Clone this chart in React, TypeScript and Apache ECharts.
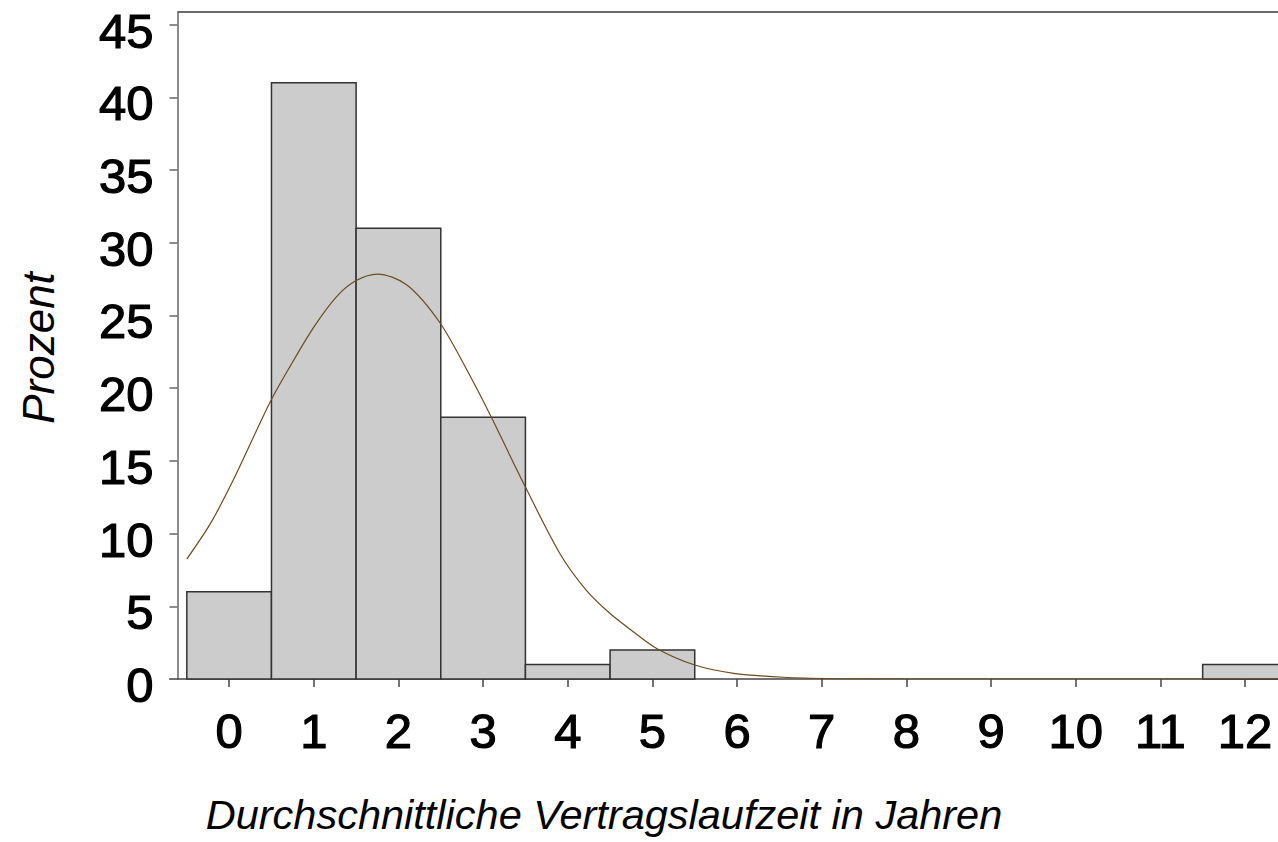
import React, { useEffect, useRef } from "react";
import * as echarts from "echarts";

const categories = [0, 1, 2, 3, 4, 5, 6, 7, 8, 9, 10, 11, 12];
const percent = [6, 41, 31, 18, 1, 2, 0, 0, 0, 0, 0, 0, 1];
const yTicks = [0, 5, 10, 15, 20, 25, 30, 35, 40, 45];
const curveX = [-0.5, -0.22, 0.05, 0.48, 0.72, 1.0, 1.27, 1.5, 1.75, 2.1, 2.49, 2.85, 3.08, 3.5, 3.91, 4.22, 4.5, 4.74, 5.05, 5.5, 5.96, 6.55, 7.14, 8, 9, 10, 11, 12, 12.5];
const curveY = [8.25, 10.7, 13.7, 19.0, 21.5, 24.2, 26.3, 27.4, 27.85, 27.1, 24.5, 20.8, 18.2, 13.2, 8.6, 6.1, 4.5, 3.4, 2.1, 0.96, 0.39, 0.12, 0.03, 0, 0, 0, 0, 0, 0];
const xTitle = "Durchschnittliche Vertragslaufzeit in Jahren";
const yTitle = "Prozent";

const FONT = "'Liberation Sans', Arial, Helvetica, sans-serif";

export default function App() {
  const ref = useRef<HTMLDivElement>(null);
  useEffect(() => {
    if (!ref.current) return;
    const chart = echarts.init(ref.current, null, { renderer: "svg" });
    const GL = 177.5, GT = 12, GB = 679;
    const labelBase = {
      fontSize: 49,
      fontFamily: FONT,
      color: "#000",
      textBorderColor: "#000",
      textBorderWidth: 1.2,
    };
    chart.setOption({
      animation: false,
      backgroundColor: "#fff",
      grid: { left: GL, top: GT, right: 0, height: GB - GT, containLabel: false },
      xAxis: {
        type: "value",
        min: -0.61,
        max: 12.39,
        splitLine: { show: false },
        axisLine: { onZero: false, lineStyle: { color: "#444", width: 1.5 } },
        axisTick: { customValues: categories, length: 8, lineStyle: { color: "#444", width: 1.5 } },
        axisLabel: {
          ...labelBase,
          customValues: categories,
          margin: 27,
          verticalAlign: "top",
        },
      },
      yAxis: {
        type: "value",
        min: 0,
        max: 45.87,
        splitLine: { show: false },
        axisLine: { onZero: false, lineStyle: { color: "#666", width: 1.5 } },
        axisTick: { customValues: yTicks, length: 8, lineStyle: { color: "#666", width: 1.5 } },
        axisLabel: {
          ...labelBase,
          customValues: yTicks,
          margin: 24,
          verticalAlign: "top",
          lineHeight: 12,
        },
      },
      graphic: [
        { type: "line", shape: { x1: GL, y1: GT, x2: 1278, y2: GT }, style: { stroke: "#6a6a6a", lineWidth: 2 } },
        { type: "line", shape: { x1: 169, y1: GB, x2: GL, y2: GB }, style: { stroke: "#666", lineWidth: 1.5 } },
        {
          type: "text",
          x: 604,
          y: 814,
          style: { text: xTitle, font: `italic 41.5px ${FONT}`, fill: "#000", textAlign: "center", textVerticalAlign: "middle" },
        },
        {
          type: "text",
          x: 38,
          y: 348,
          rotation: Math.PI / 2,
          style: { text: yTitle, font: `italic 44px ${FONT}`, fill: "#000", textAlign: "center", textVerticalAlign: "middle" },
        },
      ],
      series: [
        {
          type: "custom",
          data: categories.map((c, i) => [c, percent[i]]),
          renderItem: (params: any, api: any) => {
            const x = api.value(0);
            const v = api.value(1);
            if (!v) return null;
            const p1 = api.coord([x - 0.5, v]);
            const p2 = api.coord([x + 0.5, 0]);
            return {
              type: "rect",
              shape: { x: p1[0], y: p1[1], width: p2[0] - p1[0], height: p2[1] - p1[1] },
              style: { fill: "#cccccc", stroke: "#333", lineWidth: 1.5 },
            };
          },
          z: 2,
        },
        {
          type: "line",
          data: curveX.map((x, i) => [x, curveY[i]]),
          smooth: 0.3,
          showSymbol: false,
          lineStyle: { color: "#6e4a1c", width: 1.2 },
          z: 3,
        },
      ],
    });
    return () => chart.dispose();
  }, []);
  return <div ref={ref} style={{ position: "fixed", left: 0, top: 0, width: 1278, height: 842 }} />;
}
